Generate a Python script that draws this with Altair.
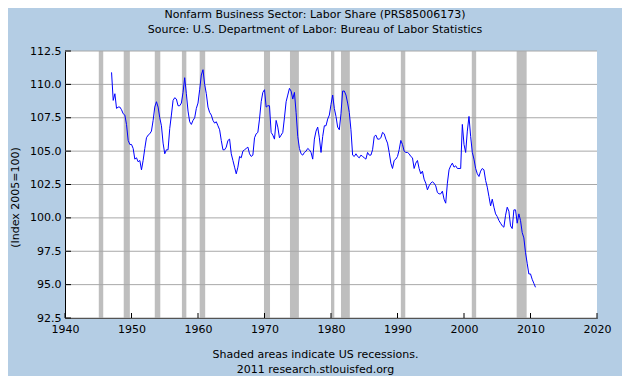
import altair as alt
import pandas as pd

# Quarterly labor share index (2005=100), 1947Q1 .. 2010Q4
start_year = 1947
labor_share = [
    110.9, 108.8, 109.3, 108.2,   # 1947
    108.3, 108.3, 108.1, 107.8,   # 1948
    107.7, 107.0, 105.8, 105.5,   # 1949
    105.5, 105.2, 104.4, 104.5,   # 1950
    104.2, 104.3, 103.6, 104.3,   # 1951
    105.2, 106.0, 106.2, 106.3,   # 1952
    106.5, 107.3, 108.3, 108.7,   # 1953
    108.3, 107.5, 106.9, 105.6,   # 1954
    104.8, 105.1, 105.1, 106.7,   # 1955
    107.7, 108.8, 109.0, 108.9,   # 1956
    108.4, 108.4, 108.6, 109.4,   # 1957
    110.5, 109.3, 108.0, 107.2,   # 1958
    107.0, 107.3, 107.5, 108.2,   # 1959
    108.6, 109.6, 110.7, 111.1,   # 1960
    110.0, 109.3, 108.3, 107.9,   # 1961
    107.7, 107.3, 107.1, 107.2,   # 1962
    106.9, 106.6, 105.8, 105.1,   # 1963
    105.1, 105.3, 105.8, 105.9,   # 1964
    104.8, 104.3, 103.8, 103.3,   # 1965
    103.8, 104.6, 104.5, 105.0,   # 1966
    105.1, 105.2, 105.3, 104.8,   # 1967
    104.6, 104.7, 106.0, 106.3,   # 1968
    106.4, 107.4, 108.7, 109.4,   # 1969
    109.6, 108.3, 108.4, 108.4,   # 1970
    106.4, 106.2, 105.9, 107.3,   # 1971
    106.8, 106.0, 106.2, 106.4,   # 1972
    107.5, 108.7, 109.2, 109.7,   # 1973
    109.5, 108.9, 109.4, 107.9,   # 1974
    106.1, 105.2, 104.8, 104.7,   # 1975
    104.9, 105.0, 105.2, 105.1,   # 1976
    104.9, 104.4, 105.9, 106.5,   # 1977
    106.8, 106.0, 104.9, 106.1,   # 1978
    106.9, 106.9, 107.4, 107.7,   # 1979
    108.5, 109.2, 108.2, 107.6,   # 1980
    106.8, 106.6, 107.8, 109.5,   # 1981
    109.5, 109.2, 108.6, 107.9,   # 1982
    106.6, 104.7, 104.6, 104.8,   # 1983
    104.6, 104.5, 104.7, 104.6,   # 1984
    104.5, 104.4, 104.9, 104.7,   # 1985
    104.7, 105.1, 106.1, 106.2,   # 1986
    105.9, 105.9, 106.0, 106.4,   # 1987
    106.3, 105.9, 105.6, 104.9,   # 1988
    104.1, 103.7, 104.3, 104.4,   # 1989
    104.6, 105.1, 105.8, 105.5,   # 1990
    105.0, 104.9, 104.9, 104.8,   # 1991
    104.6, 104.5, 103.7, 104.1,   # 1992
    104.3, 103.7, 103.3, 103.5,   # 1993
    102.9, 102.6, 102.1, 102.4,   # 1994
    102.6, 102.7, 102.6, 102.4,   # 1995
    101.9, 101.8, 101.8, 102.0,   # 1996
    101.4, 101.1, 102.6, 103.6,   # 1997
    103.9, 104.1, 103.8, 103.9,   # 1998
    103.7, 103.7, 103.7, 107.0,   # 1999
    105.5, 104.9, 106.5, 107.6,   # 2000
    106.1, 104.9, 104.4, 103.7,   # 2001
    103.3, 103.1, 103.5, 103.7,   # 2002
    103.6, 102.8, 102.3, 101.6,   # 2003
    100.9, 101.4, 100.8, 100.3,   # 2004
    100.1, 99.8, 99.6, 99.4,      # 2005
    99.3, 100.2, 100.8, 100.5,    # 2006
    99.4, 99.2, 100.6, 100.6,     # 2007
    99.6, 100.3, 99.8, 98.9,      # 2008
    98.5, 97.4, 96.6, 95.8,       # 2009
    95.8, 95.4, 95.1, 94.8,       # 2010
]

# US recessions (NBER), as decimal years
rec_start = [1945.08, 1948.83, 1953.50, 1957.58, 1960.25, 1969.92,
             1973.83, 1980.00, 1981.50, 1990.50, 2001.17, 2007.92]
rec_end = [1945.75, 1949.75, 1954.33, 1958.25, 1961.08, 1970.83,
           1975.17, 1980.50, 1982.83, 1991.17, 2001.83, 2009.42]

x_ticks = [1940, 1950, 1960, 1970, 1980, 1990, 2000, 2010, 2020]
y_ticks = [92.5, 95.0, 97.5, 100.0, 102.5, 105.0, 107.5, 110.0, 112.5]

title_lines = ["Nonfarm Business Sector: Labor Share (PRS85006173)",
               "Source: U.S. Department of Labor: Bureau of Labor Statistics"]
footer_lines = ["Shaded areas indicate US recessions.",
                "2011 research.stlouisfed.org"]
y_title = "(Index 2005=100)"

FONT = "DejaVu Sans"
W, H = 532, 267

series = pd.DataFrame({
    "year": [start_year + i * 0.25 for i in range(len(labor_share))],
    "value": labor_share,
})
recessions = pd.DataFrame({"start": rec_start, "end": rec_end})
xt = pd.DataFrame({"year": x_ticks})
yt = pd.DataFrame({"v": y_ticks})

x_scale = alt.Scale(domain=[1940, 2020], nice=False, zero=False)
y_scale = alt.Scale(domain=[92.5, 112.5], nice=False, zero=False)

x_axis = alt.Axis(values=x_ticks, format="d", ticks=False, grid=False,
                  domainColor="black", labelFontSize=11, labelFont=FONT,
                  labelColor="black", labelPadding=5, labelOverlap=False,
                  labelFlush=False,
                  title=footer_lines, titleFont=FONT, titleFontSize=11,
                  titleFontWeight="normal", titleColor="black",
                  titleX=250, titleY=30, titleLineHeight=15,
                  titleBaseline="top")
y_axis = alt.Axis(values=y_ticks, format=".1f", ticks=False, grid=False,
                  domainColor="black", labelFontSize=11, labelFont=FONT,
                  labelColor="black", labelPadding=4, labelOverlap=False,
                  labelFlush=False,
                  title=y_title, titleFont=FONT, titleFontSize=11,
                  titleFontWeight="normal", titleColor="black",
                  titleX=-45, titleY=146)

rec = alt.Chart(recessions).mark_rect(color="#BEBEBE").encode(
    x=alt.X("start:Q", scale=x_scale, axis=x_axis),
    x2="end:Q",
    y=alt.value(0),
    y2=alt.value(H),
)

grid = alt.Chart(yt).mark_rule(color="#A8A8A8", strokeWidth=1).encode(
    y=alt.Y("v:Q", scale=y_scale, axis=y_axis),
    x=alt.value(0),
    x2=alt.value(W),
)

line = alt.Chart(series).mark_line(color="#0000FF", strokeWidth=1).encode(
    x=alt.X("year:Q", scale=x_scale, axis=x_axis),
    y=alt.Y("value:Q", scale=y_scale, axis=y_axis),
)

ytick_marks = alt.Chart(yt).mark_rule(color="black").encode(
    y=alt.Y("v:Q", scale=y_scale, axis=y_axis),
    x=alt.value(0),
    x2=alt.value(6),
)
xtick_marks = alt.Chart(xt).mark_rule(color="black").encode(
    x=alt.X("year:Q", scale=x_scale, axis=x_axis),
    y=alt.value(H),
    y2=alt.value(H - 5),
)

chart = alt.layer(rec, grid, line, ytick_marks, xtick_marks).properties(
    width=W,
    height=H,
    title=alt.TitleParams(title_lines, font=FONT, fontSize=11,
                          fontWeight="normal", color="black",
                          anchor="middle", dx=-16, offset=10, lineHeight=15),
    autosize=alt.AutoSizeParams(type="none"),
    padding={"left": 57, "top": 43, "right": 25, "bottom": 58},
).configure(
    background="#B4CDE4",
).configure_axis(
    labelOverlap=False,
).configure_view(
    fill="white",
    stroke=None,
)

chart.save("out.html", embed_options={"renderer": "svg", "actions": False})
